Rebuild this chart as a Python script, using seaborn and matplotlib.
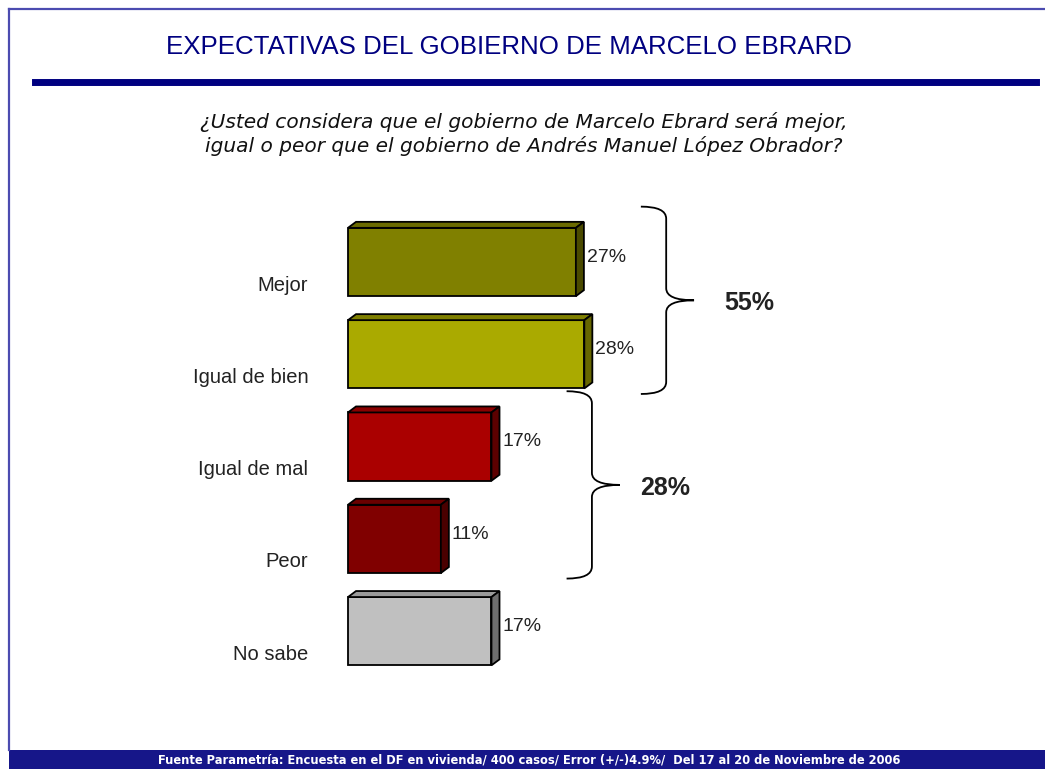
import matplotlib
matplotlib.use("Agg")
import matplotlib.pyplot as plt
from matplotlib.path import Path
from matplotlib.patches import PathPatch, Rectangle, Polygon
from matplotlib.lines import Line2D
import seaborn as sns

# datos de la encuesta
categorias = ["Mejor", "Igual de bien", "Igual de mal", "Peor", "No sabe"]
porcentajes = [27, 28, 17, 11, 17]
colores = ["#808000", "#aaaa00", "#aa0000", "#800000", "#c0c0c0"]
colores_lado = ["#4a4a00", "#666600", "#5c0000", "#4a0000", "#6e6e6e"]
colores_arriba = ["#6a6a00", "#7f7f00", "#8a0000", "#6a0000", "#9a9a9a"]
grupos = [(0, 1), (2, 3)]
grupo_totales = [55, 28]

titulo = "EXPECTATIVAS DEL GOBIERNO DE MARCELO EBRARD"
pregunta = ("¿Usted considera que el gobierno de Marcelo Ebrard será mejor,\n"
            "igual o peor que el gobierno de Andrés Manuel López Obrador?")
fuente = ("Fuente Parametría: Encuesta en el DF en vivienda/ 400 casos/ "
          "Error (+/-)4.9%/  Del 17 al 20 de Noviembre de 2006")

W, H = 1045, 769
fig = plt.figure(figsize=(W / 100, H / 100), dpi=100)
fig.patch.set_facecolor("white")

# marco y encabezado
navy = "#000080"
fig.add_artist(Line2D([9 / W, 9 / W], [1 - 9 / H, 1 - 750 / H], color="#4b4bb0", lw=1.6))
fig.add_artist(Line2D([9 / W, 1], [1 - 9 / H, 1 - 9 / H], color="#4b4bb0", lw=1.6))
fig.add_artist(Line2D([35 / W, 1036 / W], [1 - 81.5 / H, 1 - 81.5 / H], color=navy, lw=5))
fig.add_artist(Rectangle((9 / W, 0), 1 - 9 / W, 19 / H, transform=fig.transFigure,
                         facecolor="#161689", edgecolor="none"))

fig.text(509 / W, 1 - 47 / H, titulo, ha="center", va="center", color=navy,
         fontsize=18.6, family="Liberation Sans")
fig.text(524 / W, 1 - 134.5 / H, pregunta, ha="center", va="center", color="#111111",
         fontsize=14.5, style="italic", family="DejaVu Sans", linespacing=1.25,
         multialignment="center")
fig.text(529 / W, 1 - 760 / H, fuente, ha="center", va="center", color="white",
         fontsize=8.3, weight="bold", family="DejaVu Sans")

# ejes de las barras
xmax = 60
y_top, y_bot = -0.7, 4.55
left_px, px_per_pct = 348, 8.44
top_px = 262 + y_top * 92.3
bot_px = 262 + y_bot * 92.3
ax = fig.add_axes([left_px / W, 1 - bot_px / H, xmax * px_per_pct / W, (bot_px - top_px) / H])

sns.barplot(x=porcentajes, y=categorias, hue=categorias, palette=colores, legend=False,
            orient="h", width=0.74, saturation=1, edgecolor="black", linewidth=1.3, ax=ax)
ax.set_xlim(0, xmax)
ax.set_ylim(y_bot, y_top)
ax.axis("off")

# efecto 3D
dx, dy = 0.95, 0.065
for i, p in enumerate(ax.patches[:len(categorias)]):
    p.set_clip_on(False)
    x0, y0 = p.get_x(), p.get_y()
    x1, y1 = x0 + p.get_width(), y0 + p.get_height()
    ax.add_patch(Polygon([(x0, y0), (x0 + dx, y0 - dy), (x1 + dx, y0 - dy), (x1, y0)],
                         closed=True, facecolor=colores_arriba[i], edgecolor="black", lw=1.3,
                         zorder=1, clip_on=False))
    ax.add_patch(Polygon([(x1, y0), (x1 + dx, y0 - dy), (x1 + dx, y1 - dy), (x1, y1)],
                         closed=True, facecolor=colores_lado[i], edgecolor="black", lw=1.3,
                         zorder=1, clip_on=False))
    ax.text(x1 + dx + 0.35, i - 0.05, f"{porcentajes[i]}%", ha="left", va="center",
            fontsize=14, family="Liberation Sans", color="#222222")
    ax.text(-4.7, i + 0.25, categorias[i], ha="right", va="center",
            fontsize=14.5, family="Liberation Sans", color="#222222", clip_on=False)


def llave(ax, xl, yt, yb, ancho=3.0, punta=3.3, r=0.13):
    xv = xl + ancho
    xt = xv + punta
    ym = (yt + yb) / 2
    verts = [(xl, yt), (xv, yt), (xv, yt + r),
             (xv, ym - r), (xv, ym), (xt, ym),
             (xv, ym), (xv, ym + r),
             (xv, yb - r), (xv, yb), (xl, yb)]
    codes = [Path.MOVETO, Path.CURVE3, Path.CURVE3,
             Path.LINETO, Path.CURVE3, Path.CURVE3,
             Path.CURVE3, Path.CURVE3,
             Path.LINETO, Path.CURVE3, Path.CURVE3]
    ax.add_patch(PathPatch(Path(verts, codes), facecolor="none", edgecolor="black",
                           lw=1.3, clip_on=False))
    return xt, ym


desplaz = [6.7, 8.9]
sep_texto = [3.6, 2.4]
for (a, b), total, d, s in zip(grupos, grupo_totales, desplaz, sep_texto):
    gmax = max(porcentajes[a:b + 1])
    xt, ym = llave(ax, gmax + d, a - 0.6, b + 0.43)
    ax.text(xt + s, ym + 0.03, f"{total}%", ha="left", va="center", fontsize=18,
            weight="bold", family="Liberation Sans", color="#222222", clip_on=False)

fig.savefig("out.png", dpi=100, facecolor="white")
